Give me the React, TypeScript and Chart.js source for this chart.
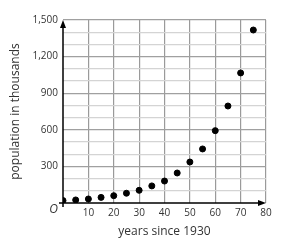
import React, { useEffect, useRef } from "react";
import { Chart, registerables } from "chart.js";

Chart.register(...registerables);

const years = [0, 5, 10, 15, 20, 25, 30, 35, 40, 45, 50, 55, 60, 65, 70, 75];
const population = [20, 25, 33, 46, 60, 80, 104, 140, 180, 246, 336, 443, 593, 795, 1066, 1418];
const xTicks = [10, 20, 30, 40, 50, 60, 70, 80];
const yTicks = [300, 600, 900, 1200, 1500];
const xTitle = "years since 1930";
const yTitle = "population in thousands";

const FONT = "'Open Sans', 'DejaVu Sans', sans-serif";

const axesPlugin = {
  id: "axesArrows",
  afterDraw(chart: any) {
    const { ctx, chartArea } = chart;
    const { left, right, top, bottom } = chartArea;
    ctx.save();
    ctx.strokeStyle = "#000";
    ctx.fillStyle = "#000";
    ctx.lineWidth = 1.5;
    ctx.beginPath();
    ctx.moveTo(left, bottom + 4);
    ctx.lineTo(left, top + 3);
    ctx.moveTo(left - 4, bottom);
    ctx.lineTo(right - 3, bottom);
    ctx.stroke();
    ctx.beginPath();
    ctx.moveTo(left, top);
    ctx.lineTo(left - 3, top + 8);
    ctx.lineTo(left + 3, top + 8);
    ctx.closePath();
    ctx.fill();
    ctx.beginPath();
    ctx.moveTo(right, bottom);
    ctx.lineTo(right - 8, bottom - 3);
    ctx.lineTo(right - 8, bottom + 3);
    ctx.closePath();
    ctx.fill();
    ctx.font = `italic 12px ${FONT}`;
    ctx.fillStyle = "#333";
    ctx.textAlign = "right";
    ctx.textBaseline = "middle";
    ctx.fillText("O", left - 5, bottom + 7);
    ctx.restore();
  },
};

export default function App() {
  const ref = useRef<HTMLCanvasElement>(null);
  useEffect(() => {
    document.body.style.margin = "0";
    const chart = new Chart(ref.current!, {
      type: "scatter",
      data: {
        datasets: [
          {
            data: years.map((x, i) => ({ x, y: population[i] })),
            backgroundColor: "#000",
            borderColor: "#000",
            pointRadius: 3,
            pointHoverRadius: 3,
          },
        ],
      },
      options: {
        animation: false,
        responsive: false,
        maintainAspectRatio: false,
        layout: { padding: { left: 0, right: 15, top: 20, bottom: 0 } },
        plugins: { legend: { display: false }, tooltip: { enabled: false } },
        scales: {
          x: {
            type: "linear",
            min: 0,
            max: 80,
            afterFit: (s: any) => {
              s.height = 38;
            },
            afterBuildTicks: (s: any) => {
              s.ticks = [0, ...xTicks].map((v) => ({ value: v }));
            },
            ticks: {
              padding: 4,
              color: "#333",
              font: { family: FONT, size: 10 },
              maxRotation: 0,
              autoSkip: false,
              callback: (v: any) => (xTicks.includes(v) ? String(v) : ""),
            },
            grid: {
              color: (c: any) => (c.tick && c.tick.value === 0 ? "rgba(0,0,0,0)" : "#9a9a9a"),
              lineWidth: 1.2,
              drawTicks: false,
            },
            border: { display: false },
            title: {
              display: true,
              text: xTitle,
              color: "#333",
              font: { family: FONT, size: 12 },
              padding: { top: 0, bottom: 2 },
            },
          },
          y: {
            type: "linear",
            min: 0,
            max: 1500,
            afterFit: (s: any) => {
              s.width = 63;
            },
            afterBuildTicks: (s: any) => {
              const t = [];
              for (let v = 0; v <= 1500; v += 100) t.push({ value: v });
              s.ticks = t;
            },
            ticks: {
              padding: 5,
              color: "#333",
              font: { family: FONT, size: 10 },
              autoSkip: false,
              callback: (v: any) => (yTicks.includes(v) ? Number(v).toLocaleString("en-US") : ""),
            },
            grid: {
              color: (c: any) => {
                const v = c.tick ? c.tick.value : 0;
                if (v === 0) return "rgba(0,0,0,0)";
                return v % 300 === 0 ? "#a0a0a0" : "#d4d4d4";
              },
              lineWidth: 1.2,
              drawTicks: false,
            },
            border: { display: false },
            title: {
              display: true,
              text: yTitle,
              color: "#333",
              font: { family: FONT, size: 12 },
              padding: { top: 8, bottom: 0 },
            },
          },
        },
      },
      plugins: [axesPlugin],
    } as any);
    return () => chart.destroy();
  }, []);
  return (
    <div style={{ width: 281, height: 241 }}>
      <canvas ref={ref} width={281} height={241} style={{ display: "block" }} />
    </div>
  );
}
